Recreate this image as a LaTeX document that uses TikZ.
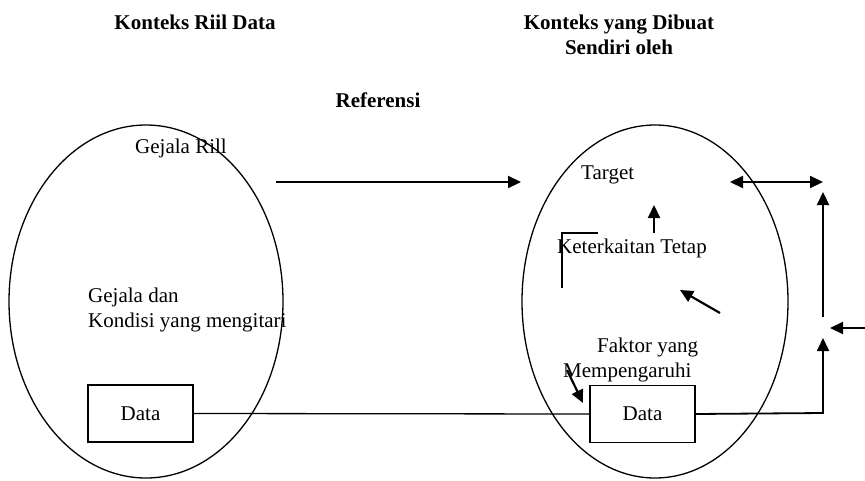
\documentclass[tikz,border=0pt]{standalone}
\usepackage{fontspec}
\setmainfont{Liberation Serif}
\usetikzlibrary{arrows.meta,shapes.geometric}

\tikzset{
  txt/.style={inner sep=0pt,anchor=west,font=\fontsize{21}{25}\selectfont},
  judul/.style={inner sep=0pt,align=center,font=\fontsize{21}{25}\selectfont\bfseries},
  kotak/.style={draw,line width=1.2pt,minimum width=105pt,minimum height=57pt,inner sep=0pt,font=\fontsize{21}{25}\selectfont},
  panah/.style={line width=2.2pt,-{Triangle[length=13pt,width=12pt]}},
  garis/.style={line width=1.3pt}
}

\begin{document}
\begin{tikzpicture}[x=1pt,y=-1pt]
            \useasboundingbox (0,0) rectangle (865,480);
            % ellips konteks
            \begin{scope}[every node/.style={ellipse,draw,line width=1.3pt,inner sep=0pt}]
                \node[minimum width=274pt,minimum height=353pt] (riil) at (146,301.5) {};
                \node[minimum width=266pt,minimum height=353pt] (buat) at (655,301.5) {};
            \end{scope}
            % judul
            \node[judul] (jkiri) at (195,22) {Konteks Riil Data};
            \node[judul] (jkanan) at (619,35) {Konteks yang Dibuat\\Sendiri oleh};
            \node[judul] (ref) at (378,100) {Referensi};
            % teks
            \node[txt] (gejala) at (135,148) {Gejala Rill};
            \node[txt,align=left] (kondisi) at (88,310) {Gejala dan\\Kondisi yang mengitari};
            \node[txt] (target) at (581,175) {Target};
            \node[txt] (terkait) at (557,248) {Keterkaitan Tetap};
            \node[txt] (faktor) at (597,347) {Faktor yang};
            \node[txt] (pengaruh) at (563,372) {Mempengaruhi};
            \node[kotak] (data1) at (140.5,413.5) {Data};
            \node[kotak] (data2) at (642.5,414) {Data};
            % titik bantu
            \coordinate (a1) at (276,182);
            \coordinate (a2) at (521,182);
            \coordinate (b1) at (730,182);
            \coordinate (b2) at (823,182);
            \coordinate (c1) at (823,317);
            \coordinate (c2) at (823,192);
            \coordinate (d1) at (865,328);
            \coordinate (d2) at (830,328);
            \coordinate (e1) at (823,413);
            \coordinate (e2) at (823,338);
            \coordinate (f1) at (654,233);
            \coordinate (f2) at (654,205);
            \coordinate (g1) at (562,288);
            \coordinate (g2) at (562,233);
            \coordinate (g3) at (598,233);
            \coordinate (h1) at (720,313);
            \coordinate (h2) at (680,290);
            \coordinate (k1) at (567,370);
            \coordinate (k2) at (583,403);
            % garis dan panah
            \draw[garis] (data1.east) -- (data2.west);
            \draw[garis] (g1) -- (g2) -- (g3);
            \draw[panah] (a1) -- (a2);
            \draw[panah,{Triangle[length=13pt,width=12pt]}-{Triangle[length=13pt,width=12pt]}] (b1) -- (b2);
            \draw[panah] (c1) -- (c2);
            \draw[panah] (d1) -- (d2);
            \draw[garis,-{Triangle[length=13pt,width=12pt]},line width=1.8pt] (data2.east) -- (e1) -- (e2);
            \draw[panah] (f1) -- (f2);
            \draw[panah] (h1) -- (h2);
            \draw[panah] (k1) -- (k2);
        \end{tikzpicture}
\end{document}
